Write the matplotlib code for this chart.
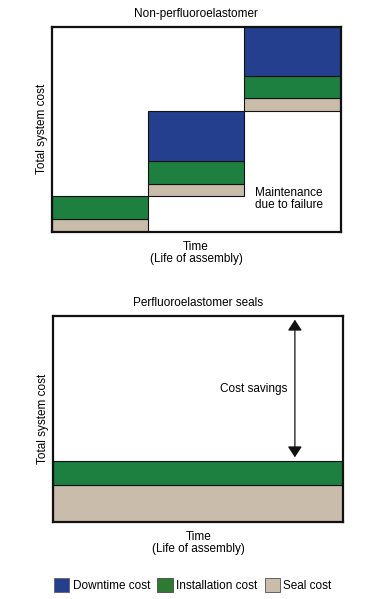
import matplotlib.pyplot as plt
from matplotlib.patches import Patch

plt.rcParams['font.family'] = ['Liberation Sans Narrow', 'Liberation Sans', 'DejaVu Sans']

# cost components per time step (non-perfluoroelastomer)
steps = [0, 1, 2]
seal_cost = [13, 12, 13]
install_cost = [23, 23, 22]
downtime_cost = [0, 50, 49]

# perfluoroelastomer seals: one long period
pf_seal = 37
pf_install = 23.5

c_down = '#233F8E'
c_inst = '#1D8040'
c_seal = '#C9BCAA'
fs = 8.5

fig = plt.figure(figsize=(3.68, 5.99), dpi=100)

# --- top panel ---
ax1 = fig.add_axes([0.1405, 0.6132, 0.785, 0.3422])
base = 0
for i in steps:
    ax1.bar(i, seal_cost[i], bottom=base, width=1, align='edge',
            color=c_seal, edgecolor='#111111', linewidth=0.8)
    ax1.bar(i, install_cost[i], bottom=base + seal_cost[i], width=1, align='edge',
            color=c_inst, edgecolor='#111111', linewidth=0.8)
    if downtime_cost[i] > 0:
        ax1.bar(i, downtime_cost[i], bottom=base + seal_cost[i] + install_cost[i],
                width=1, align='edge', color=c_down, edgecolor='#111111', linewidth=0.8)
    base += seal_cost[i] + install_cost[i] + downtime_cost[i]
ax1.set_xlim(0, 3)
ax1.set_ylim(0, 205)
ax1.text(2.46, 33, 'Maintenance\ndue to failure', ha='center', va='center',
         fontsize=fs, linespacing=1.0)
ax1.set_title('Non-perfluoroelastomer', fontsize=fs, pad=7)
ax1.set_xlabel('Time\n(Life of assembly)', fontsize=fs, labelpad=6.5, linespacing=1.0)
ax1.set_ylabel('Total system cost', fontsize=fs, labelpad=3)

# --- bottom panel ---
ax2 = fig.add_axes([0.1449, 0.128, 0.788, 0.345])
ax2.bar(0, pf_seal, width=1, align='edge', color=c_seal,
        edgecolor='#111111', linewidth=0.8)
ax2.bar(0, pf_install, bottom=pf_seal, width=1, align='edge', color=c_inst,
        edgecolor='#111111', linewidth=0.8)
ax2.set_xlim(0, 1)
ax2.set_ylim(0, 205)
top_total = pf_seal + pf_install
ax2.annotate('', xy=(0.833, 201), xytext=(0.833, top_total + 4),
             arrowprops=dict(arrowstyle='<|-|>,head_length=0.55,head_width=0.36',
                             color='#111111', lw=0.9,
                             mutation_scale=12, shrinkA=0, shrinkB=0))
ax2.text(0.69, 132, 'Cost savings', ha='center', va='center', fontsize=fs)
ax2.set_title('Perfluoroelastomer seals', fontsize=fs, pad=7)
ax2.set_xlabel('Time\n(Life of assembly)', fontsize=fs, labelpad=6, linespacing=1.0)
ax2.set_ylabel('Total system cost', fontsize=fs, labelpad=3)

for ax in (ax1, ax2):
    ax.set_xticks([])
    ax.set_yticks([])
    for s in ax.spines.values():
        s.set_linewidth(1.6)
        s.set_color('#111111')

handles = [Patch(facecolor=c_down, edgecolor='#555555', linewidth=0.5),
           Patch(facecolor='#2E7A32', edgecolor='#333333', linewidth=0.5),
           Patch(facecolor=c_seal, edgecolor='#333333', linewidth=0.5)]
fig.legend(handles, ['Downtime cost', 'Installation cost', 'Seal cost'],
           loc='center', bbox_to_anchor=(0.524, 1 - 585 / 599), ncol=3,
           frameon=False, fontsize=fs, handlelength=1.3, handleheight=1.4,
           handletextpad=0.3, columnspacing=0.6)

fig.savefig('out.png', dpi=100)
